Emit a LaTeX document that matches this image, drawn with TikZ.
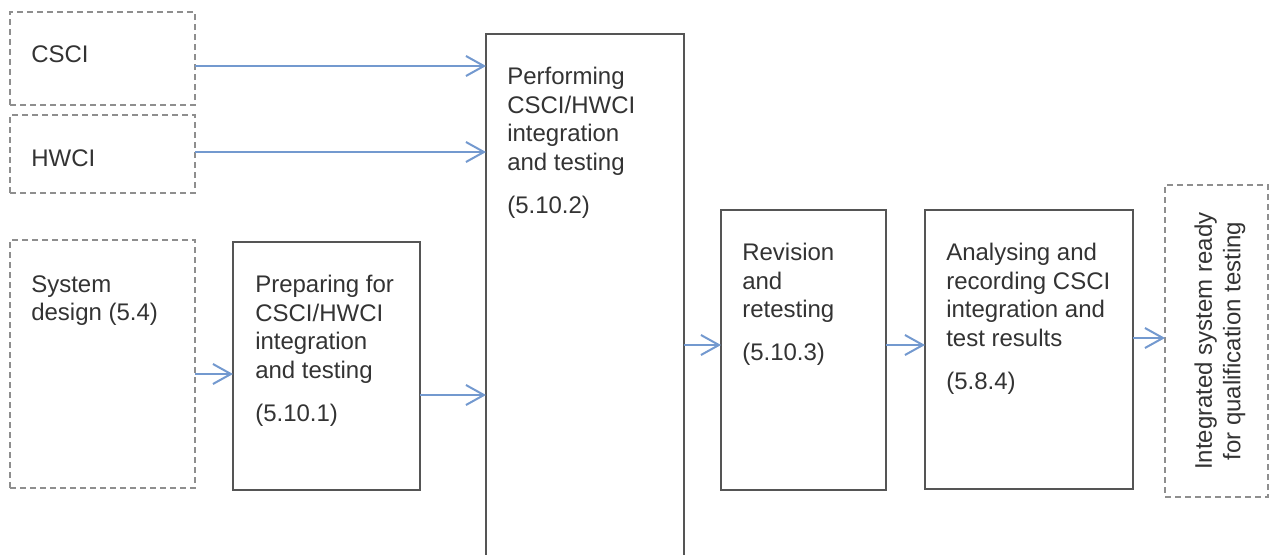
\documentclass[tikz,border=0pt]{standalone}
\usepackage{fontspec}
\setmainfont{Liberation Sans}
\usetikzlibrary{arrows.meta,calc}
\definecolor{txtc}{HTML}{333333}
\definecolor{solidc}{HTML}{555555}
\definecolor{dashc}{HTML}{8E8E8E}
\definecolor{arrc}{HTML}{7399CF}
\begin{document}
\begin{tikzpicture}[x=0.75pt,y=-0.75pt,
  sbox/.style={draw=solidc, line width=0.9pt, inner sep=0pt, outer sep=0pt, anchor=north west},
  dbox/.style={draw=dashc, line width=1pt, dash pattern=on 4.5pt off 3pt, inner sep=0pt, outer sep=0pt, anchor=north west},
  txt/.style={text=txtc, font=\fontsize{18}{21.4}\selectfont, inner sep=0pt, align=left, anchor=north west},
  flow/.style={draw=arrc, line width=1.5pt, -{Straight Barb[length=13.5pt, width=15pt, line width=1.5pt]}}
]
\useasboundingbox (0,0) rectangle (1270,554);
\clip (0,0) rectangle (1270,554);
% boxes
\node[dbox, minimum width=185*0.75pt, minimum height=93*0.75pt] (csci) at (10,12) {};
\node[dbox, minimum width=185*0.75pt, minimum height=78*0.75pt] (hwci) at (10,115) {};
\node[dbox, minimum width=185*0.75pt, minimum height=248*0.75pt] (sys) at (10,240) {};
\node[sbox, minimum width=187*0.75pt, minimum height=248*0.75pt] (prep) at (233,242) {};
\node[sbox, minimum width=198*0.75pt, minimum height=540*0.75pt] (perf) at (486,34) {};
\node[sbox, minimum width=165*0.75pt, minimum height=280*0.75pt] (rev) at (721,210) {};
\node[sbox, minimum width=208*0.75pt, minimum height=279*0.75pt] (ana) at (925,210) {};
\node[dbox, minimum width=103*0.75pt, minimum height=312*0.75pt] (integ) at (1165,185) {};
% texts
\node[txt] (csci-t) at (31,45) {CSCI};
\node[txt] (hwci-t) at (31,149) {HWCI};
\node[txt] (sys-t) at (31,275) {System\\design (5.4)};
\node[txt] (prep-t) at (255,275) {Preparing for\\CSCI/HWCI\\integration\\and testing\\[11pt](5.10.1)};
\node[txt] (perf-t) at (507,67) {Performing\\CSCI/HWCI\\integration\\and testing\\[11pt](5.10.2)};
\node[txt] (rev-t) at (742,243) {Revision\\and\\retesting\\[11pt](5.10.3)};
\node[txt] (ana-t) at (946,243) {Analysing and\\recording CSCI\\integration and\\test results\\[11pt](5.8.4)};
\node[txt, anchor=center, align=center, rotate=90] (integ-t) at (1220,341) {Integrated system ready\\for qualification testing};
% connectors
\draw[flow] (csci.east |- 0,66) -- (perf.west |- 0,66);
\draw[flow] (hwci.east |- 0,152) -- (perf.west |- 0,152);
\draw[flow] (sys.east |- 0,374) -- (prep.west |- 0,374);
\draw[flow] (prep.east |- 0,395) -- (perf.west |- 0,395);
\draw[flow] (perf.east |- 0,345) -- (rev.west |- 0,345);
\draw[flow] (rev.east |- 0,345) -- (ana.west |- 0,345);
\draw[flow] (ana.east |- 0,338) -- (integ.west |- 0,338);
\end{tikzpicture}
\end{document}
